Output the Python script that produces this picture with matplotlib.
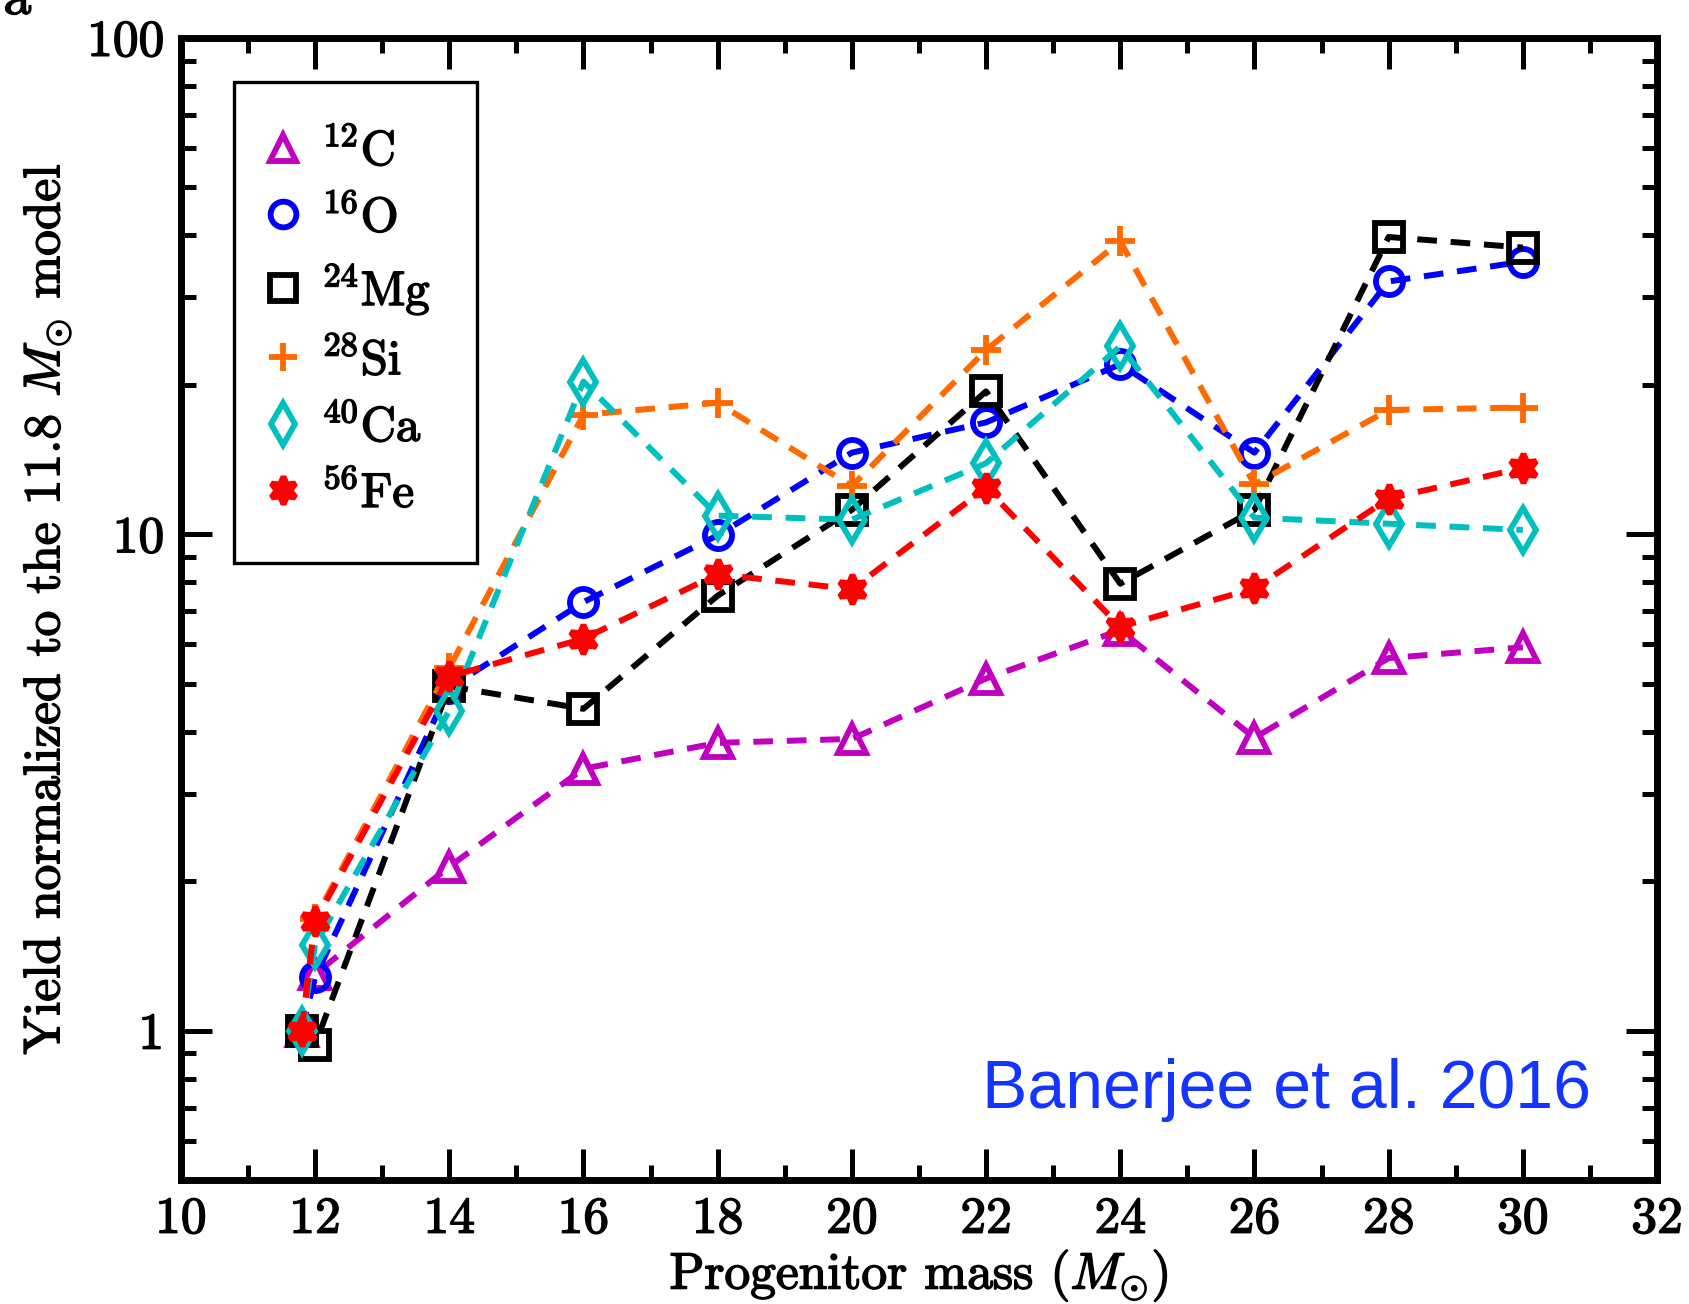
import matplotlib
matplotlib.use("Agg")
import matplotlib.pyplot as plt
import matplotlib.patheffects as pe
from matplotlib.lines import Line2D
from matplotlib.ticker import FixedLocator, FuncFormatter, MultipleLocator

plt.rcParams['font.family'] = 'serif'
plt.rcParams['font.serif'] = ['cmr10', 'DejaVu Serif']
plt.rcParams['mathtext.fontset'] = 'cm'
plt.rcParams['axes.unicode_minus'] = False

# progenitor masses (Msun)
mass = [11.8, 12, 14, 16, 18, 20, 22, 24, 26, 28, 30]

# yields normalized to the 11.8 Msun model
c12 = [1.0, 1.3, 2.14, 3.37, 3.8, 3.87, 5.12, 6.41, 3.89, 5.63, 5.92]
o16 = [1.0, 1.28, 4.9, 7.3, 9.95, 14.6, 16.8, 22.0, 14.6, 32.3, 35.4]
mg24 = [1.0, 0.937, 4.94, 4.45, 7.52, 11.2, 19.4, 7.95, 11.2, 39.7, 37.8]
si28 = [1.0, 1.68, 5.38, 17.4, 18.4, 12.5, 23.5, 38.9, 12.6, 17.8, 18.0]
ca40 = [1.0, 1.49, 4.41, 20.3, 10.9, 10.7, 13.9, 23.9, 10.8, 10.5, 10.2]
fe56 = [1.0, 1.66, 5.17, 6.16, 8.31, 7.75, 12.4, 6.51, 7.78, 11.8, 13.6]

labels = [r'$^{12}$C', r'$^{16}$O', r'$^{24}$Mg', r'$^{28}$Si', r'$^{40}$Ca', r'$^{56}$Fe']
series = [c12, o16, mg24, si28, ca40, fe56]
colors = ['#bf00bf', '#0000ff', '#000000', '#ff6a00', '#00bfbf', '#ff0000']
markers = ['^', 'o', 's', '+', 'd', (6, 1, 0)]
msizes = [20, 19.5, 19.5, 21, 22, 21]
filled = [False, False, False, False, False, True]

bold = [pe.withStroke(linewidth=1.1, foreground='black')]

fig = plt.figure(figsize=(16.9, 13.04), dpi=100)
ax = fig.add_axes([0.107, 0.095, 0.8735, 0.876])

handles = []
for y, lab, c, m, ms, f in zip(series, labels, colors, markers, msizes, filled):
    ax.plot(mass, y, ls=(0, (3.3, 2.3)), lw=4.3, color=c, marker=m, ms=ms,
            mew=4.2, mfc=c if f else 'none', mec=c)
    handles.append(Line2D([], [], ls='none', marker=m, ms=ms * 0.95, mew=4.2,
                          color=c, mfc=c if f else 'none', mec=c, label=lab))

ax.set_yscale('log')
ax.set_xlim(10, 32)
ax.set_ylim(0.5, 100)

ax.xaxis.set_major_locator(MultipleLocator(2))
ax.xaxis.set_minor_locator(MultipleLocator(1))
ax.yaxis.set_major_locator(FixedLocator([1, 10, 100]))
ax.yaxis.set_minor_locator(FixedLocator([v * d for d in (0.1, 1, 10) for v in range(2, 10)]))
ax.yaxis.set_major_formatter(FuncFormatter(lambda v, p: '%g' % v))
ax.yaxis.set_minor_formatter(FuncFormatter(lambda v, p: ''))

ax.tick_params(which='both', direction='in', top=True, right=True, labelsize=37)
ax.tick_params(which='major', length=22, width=3.6, pad=12)
ax.tick_params(which='minor', length=11, width=3.6)
for s in ax.spines.values():
    s.set_linewidth(5)
for t in ax.get_xticklabels() + ax.get_yticklabels():
    t.set_path_effects(bold)

ax.set_xlabel(r'Progenitor mass ($M_{\odot}$)', fontsize=37, labelpad=4,
              path_effects=bold)
ax.set_ylabel(r'Yield normalized to the 11.8 $M_{\odot}$ model', fontsize=37,
              labelpad=10, path_effects=bold)

leg = ax.legend(handles=handles, loc='upper left', bbox_to_anchor=(0.036, 0.961),
                borderaxespad=0, fontsize=35, frameon=True, fancybox=False,
                edgecolor='black', framealpha=1, handlelength=0.1,
                handletextpad=0.75, labelspacing=0.42, borderpad=0.95)
leg.get_frame().set_linewidth(2.4)
for t in leg.get_texts():
    t.set_path_effects(bold)

ax.text(0.955, 0.063, 'Banerjee et al. 2016', transform=ax.transAxes,
        ha='right', va='baseline', fontsize=49, color='#1435ff',
        family='Liberation Sans')

fig.text(0.002, 1.0, 'a', ha='left', va='center', fontsize=40,
         path_effects=bold)

fig.savefig('out.png', dpi=100)
